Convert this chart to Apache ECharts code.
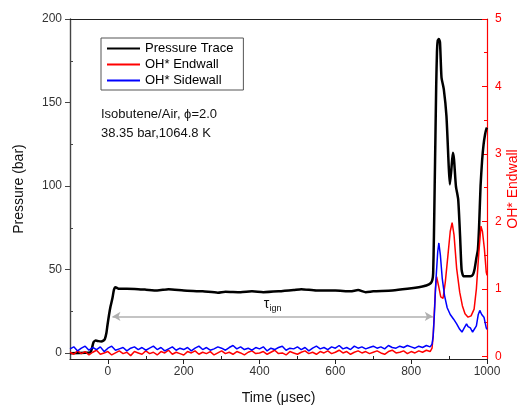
<!DOCTYPE html>
<html><head><meta charset="utf-8">
<script src="https://cdn.jsdelivr.net/npm/echarts@6/dist/echarts.min.js"></script>
<style>html,body{margin:0;padding:0;background:#fff}#c{width:522px;height:410px}</style>
</head><body><div id="c"></div>
<script>
// ---- axis ticks / labels ----
const xLabelValues = [0, 200, 400, 600, 800, 1000];
const xMinorTicks = [100, 300, 500, 700, 900];
const yLeftLabels = [0, 50, 100, 150, 200];
const yLeftMinor = [25, 75, 125, 175];
const yRightLabels = [0, 1, 2, 3, 4, 5];
const yRightMinor = [0.5, 1.5, 2.5, 3.5, 4.5];

const seriesNames = ['Pressure Trace', 'OH* Endwall', 'OH* Sidewall'];

// ---- pressure trace (bar) ----
const pressT = [-100,-60,-46,-42,-38,-32,-25,-18,-12,-8,-4,-1,3,7,12,16,20,24,30,50,80,100,130,160,200,250,290,310,350,380,410,450,490,510,550,600,640,660,680,700,750,790,820,840,852,856,858,860,862,864,866,868,870,873,876,880,886,893,899,902,906,910,913,918,924,929,933,938,946,956,963,967,972,976,979,983,987,991,995,998,1000];
const pressV = [0,0.2,0.5,3,6.5,7.5,7.2,7,7.5,8.5,12,17,23,28,33,38,39.5,39,38.5,38.5,38.3,38,37.5,38.3,37.5,37,36.2,36.8,36.5,37,36.5,37,37.8,38.3,37.5,37.5,37,37.8,36.5,37,37.5,38.5,39.5,40.5,42,44,48,70,100,130,160,180,187,188,186,165,158,142,112,101,110,120,116,100,92,70,50,46,46,46,47,50,57,62,75,100,115,125,131,134,135];

// ---- OH* baseline (before ignition), time in µs ----
const ohT = [-100,-90,-80,-70,-60,-50,-40,-30,-20,-10,0,10,20,30,40,50,60,70,80,90,100,110,120,130,140,150,160,170,180,190,200,210,220,230,240,250,260,270,280,290,300,310,320,330,340,350,360,370,380,390,400,410,420,430,440,450,460,470,480,490,500,510,520,530,540,550,560,570,580,590,600,610,620,630,640,650,660,670,680,690,700,710,720,730,740,750,760,770,780,790,800,810,820,830,840,850];
const endwallBase = [0.06,0.03,0.08,0.04,0.07,0.02,0.06,0.09,0.03,0.05,
0.07,0.02,0.05,0.08,0.04,0.06,0.01,0.07,0.05,0.03,
0.08,0.04,0.06,0.02,0.07,0.05,0.09,0.03,0.06,0.04,
0.02,0.07,0.05,0.08,0.03,0.06,0.04,0.07,0.02,0.05,
0.08,0.04,0.06,0.03,0.07,0.05,0.02,0.06,0.08,0.04,
0.05,0.07,0.03,0.06,0.09,0.04,0.05,0.02,0.07,0.05,
0.03,0.06,0.08,0.04,0.06,0.03,0.07,0.05,0.08,0.04,
0.06,0.09,0.05,0.07,0.03,0.06,0.08,0.05,0.07,0.04,
0.06,0.08,0.05,0.03,0.07,0.09,0.05,0.06,0.08,0.04,
0.07,0.05,0.08,0.06,0.09,0.07];
const sidewallBase = [0.11,0.14,0.08,0.12,0.15,0.09,0.13,0.10,0.14,0.07,
0.12,0.15,0.09,0.11,0.13,0.08,0.12,0.14,0.10,0.13,
0.09,0.12,0.15,0.10,0.13,0.08,0.11,0.14,0.09,0.12,
0.10,0.13,0.08,0.12,0.15,0.10,0.13,0.09,0.11,0.14,
0.12,0.09,0.13,0.16,0.11,0.14,0.10,0.12,0.09,0.13,
0.11,0.14,0.08,0.12,0.10,0.13,0.15,0.09,0.12,0.11,
0.14,0.10,0.13,0.08,0.12,0.15,0.11,0.13,0.10,0.14,
0.12,0.16,0.11,0.13,0.10,0.15,0.12,0.14,0.11,0.13,
0.15,0.12,0.14,0.11,0.16,0.13,0.12,0.15,0.13,0.16,
0.14,0.12,0.15,0.13,0.16,0.14];

// ---- OH* after ignition ----
const endwallPeakT = [855,858,861,864,867,872,878,884,890,897,903,908,913,920,928,935,942,950,958,966,972,978,984,988,993,998,1000];
const endwallPeakV = [0.12,0.3,0.65,1.0,1.18,1.05,0.88,0.86,1.1,1.5,1.85,1.98,1.8,1.3,0.95,0.75,0.63,0.58,0.6,0.7,1.0,1.5,1.93,1.85,1.6,1.25,1.2];
const sidewallPeakT = [855,858,861,865,870,873,877,882,888,895,903,912,920,928,934,940,946,950,956,962,967,972,977,981,986,992,998,1000];
const sidewallPeakV = [0.18,0.3,0.6,1.1,1.55,1.68,1.5,1.15,0.9,0.72,0.62,0.55,0.48,0.4,0.36,0.42,0.48,0.44,0.42,0.36,0.35,0.45,0.62,0.68,0.62,0.58,0.42,0.4];

// ---- ignition delay arrow (x in µs, y in bar) ----
const tauStart = [12, 22];
const tauEnd = [857, 22];

function zip(a, b) { return a.map((v, i) => [v, b[i]]); }

const FONT = 'Liberation Sans, Arial, sans-serif';
const chart = echarts.init(document.getElementById('c'), null, {renderer: 'canvas'});

const hidden = {show: false};
const noLine = {show: false, onZero: false};
chart.setOption({
  animation: false,
  backgroundColor: '#fff',
  textStyle: {fontFamily: FONT},
  grid: {left: 70, right: 35, top: 19, bottom: 51, containLabel: false, outerBoundsMode: 'none'},
  xAxis: [
    {
      type: 'value', min: -100, max: 1000, position: 'bottom',
      axisLine: {onZero: false, lineStyle: {color: '#222', width: 1.2}},
      axisTick: {show: true, inside: false, length: 5, customValues: xLabelValues, lineStyle: {color: '#222'}},
      axisLabel: {customValues: xLabelValues, formatter: v => String(v), fontSize: 12, color: '#333', margin: 7, fontFamily: FONT},
      splitLine: hidden,
      name: 'Time (\u03bcsec)', nameLocation: 'middle', nameGap: 32,
      nameTextStyle: {fontSize: 14, color: '#111', fontFamily: FONT}
    },
    {
      type: 'value', min: -100, max: 1000, position: 'bottom',
      axisLine: noLine,
      axisTick: {show: true, inside: true, length: 3, customValues: xMinorTicks, lineStyle: {color: '#222'}},
      axisLabel: hidden, splitLine: hidden
    },
    {
      type: 'value', min: -100, max: 1000, position: 'top',
      axisLine: {onZero: false, lineStyle: {color: '#222', width: 1.2}},
      axisTick: hidden, axisLabel: hidden, splitLine: hidden
    }
  ],
  yAxis: [
    {
      type: 'value', min: -3.5, max: 200, position: 'left',
      axisLine: {show: true, onZero: false, lineStyle: {color: '#444', width: 1.4}},
      axisTick: {show: true, inside: false, length: 5, customValues: yLeftLabels, lineStyle: {color: '#444'}},
      axisLabel: {customValues: yLeftLabels, fontSize: 12, color: '#333', margin: 8, fontFamily: FONT},
      splitLine: hidden,
      name: 'Pressure (bar)', nameLocation: 'middle', nameGap: 44, nameRotate: 90,
      nameTextStyle: {fontSize: 14, color: '#111', fontFamily: FONT}
    },
    {
      type: 'value', min: -3.5, max: 200, position: 'left',
      axisLine: noLine,
      axisTick: {show: true, inside: true, length: 3, customValues: yLeftMinor, lineStyle: {color: '#444'}},
      axisLabel: hidden, splitLine: hidden
    },
    {
      type: 'value', min: -0.04, max: 5, position: 'right',
      axisLine: {show: true, onZero: false, lineStyle: {color: '#ff0000', width: 1.2}},
      axisTick: {show: true, inside: true, length: 5, customValues: yRightLabels, lineStyle: {color: '#ff0000'}},
      axisLabel: {customValues: yRightLabels, fontSize: 12, color: '#ff0000', margin: 8, fontFamily: FONT},
      splitLine: hidden,
      name: 'OH* Endwall', nameLocation: 'middle', nameGap: 19, nameRotate: 90, nameMoveOverlap: false,
      nameTextStyle: {fontSize: 14, color: '#ff0000', fontFamily: FONT}
    },
    {
      type: 'value', min: -0.04, max: 5, position: 'right',
      axisLine: noLine,
      axisTick: {show: true, inside: true, length: 3, customValues: yRightMinor, lineStyle: {color: '#ff0000'}},
      axisLabel: hidden, splitLine: hidden
    }
  ],
  legend: {
    orient: 'vertical', left: 101, top: 38,
    data: seriesNames,
    padding: [4, 10, 3, 5], itemGap: 3, itemWidth: 33, itemHeight: 14,
    borderColor: '#555', borderWidth: 1,
    itemStyle: {opacity: 0},
    textStyle: {fontSize: 13, color: '#000', fontFamily: FONT}
  },
  graphic: [
    {type: 'text', left: 101, top: 108, style: {text: 'Isobutene/Air, \u03d5=2.0', fontSize: 13, fill: '#111', fontFamily: FONT}},
    {type: 'text', left: 101, top: 127, style: {text: '38.35 bar,1064.8 K', fontSize: 13, fill: '#111', fontFamily: FONT}}
  ],
  series: [
    {
      name: seriesNames[0], type: 'line', xAxisIndex: 0, yAxisIndex: 0,
      data: zip(pressT, pressV), showSymbol: false, symbol: 'none', smooth: 0.2,
      lineStyle: {color: '#000', width: 2.5}, itemStyle: {color: '#000'},
      z: 3,
      markLine: {
        silent: true, symbol: ['arrow', 'arrow'], symbolSize: [7, 8], precision: 0,
        lineStyle: {color: '#b0b0b0', width: 1.5, type: 'solid'},
        label: {
          show: true, position: 'middle', distance: 3,
          formatter: '{t|\u03c4}{s|ign}',
          rich: {
            t: {fontSize: 14, color: '#111', fontFamily: FONT},
            s: {fontSize: 9, color: '#111', fontFamily: FONT, padding: [9, 0, 0, 0]}
          }
        },
        data: [[{coord: tauStart}, {coord: tauEnd}]]
      }
    },
    {
      name: seriesNames[1], type: 'line', xAxisIndex: 0, yAxisIndex: 2,
      data: zip(ohT, endwallBase).concat(zip(endwallPeakT, endwallPeakV)),
      showSymbol: false, symbol: 'none',
      lineStyle: {color: '#ff0000', width: 1.5}, itemStyle: {color: '#ff0000'}, z: 4
    },
    {
      name: seriesNames[2], type: 'line', xAxisIndex: 0, yAxisIndex: 2,
      data: zip(ohT, sidewallBase).concat(zip(sidewallPeakT, sidewallPeakV)),
      showSymbol: false, symbol: 'none',
      lineStyle: {color: '#0000ff', width: 1.5}, itemStyle: {color: '#0000ff'}, z: 5
    }
  ]
});
</script></body></html>
